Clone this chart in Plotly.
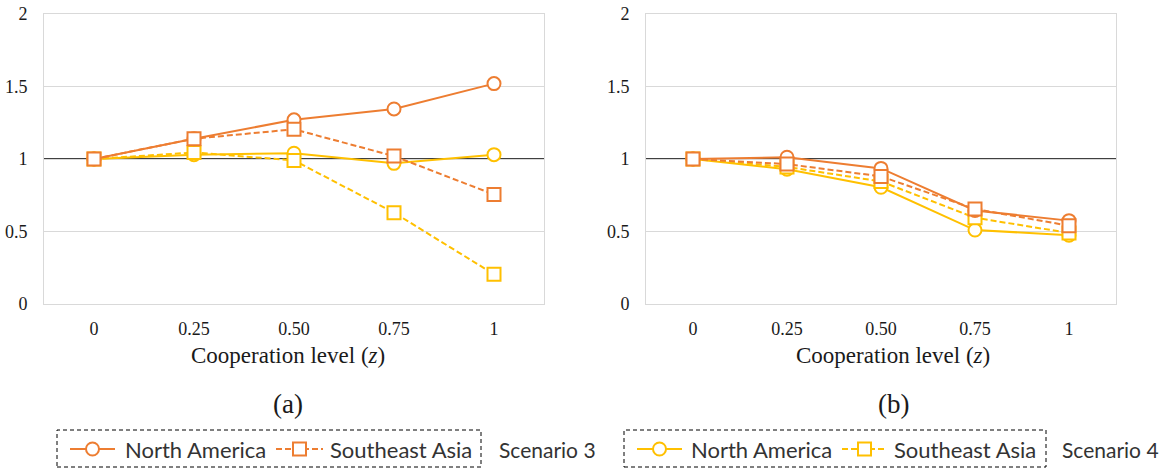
import plotly.graph_objects as go

W, H = 1173, 468

# Cooperation levels on the horizontal axis
levels = ["0", "0.25", "0.50", "0.75", "1"]
y_ticks = [0, 0.5, 1, 1.5, 2]
y_tick_text = ["0", "0.5", "1", "1.5", "2"]

# Panel (a)
a_s3_north_america = [1.00, 1.14, 1.27, 1.345, 1.52]
a_s3_southeast_asia = [1.00, 1.14, 1.205, 1.02, 0.755]
a_s4_north_america = [1.00, 1.03, 1.04, 0.97, 1.03]
a_s4_southeast_asia = [1.00, 1.045, 0.99, 0.63, 0.205]

# Panel (b)
b_s3_north_america = [1.00, 1.012, 0.935, 0.645, 0.575]
b_s3_southeast_asia = [1.00, 0.965, 0.88, 0.655, 0.54]
b_s4_north_america = [1.00, 0.93, 0.805, 0.51, 0.475]
b_s4_southeast_asia = [1.00, 0.945, 0.845, 0.595, 0.49]

ORANGE = "#ED7D31"
YELLOW = "#FFC000"
GRID = "#D9D9D9"
TEXT = "#1a1a1a"
SERIF = "Liberation Serif, Times New Roman, serif"
SANS = "Lato, Carlito, Calibri, sans-serif"
DASH = "6px,3px"
TICK_FONT = dict(family=SERIF, size=18, color=TEXT)
MARKER_SIZE = 13

styles = {
    ("s4", "na"): dict(color=YELLOW, dash="solid", symbol="circle"),
    ("s4", "sea"): dict(color=YELLOW, dash=DASH, symbol="square"),
    ("s3", "na"): dict(color=ORANGE, dash="solid", symbol="circle"),
    ("s3", "sea"): dict(color=ORANGE, dash=DASH, symbol="square"),
}

panels = [
    ("x", "y", {("s3", "na"): a_s3_north_america, ("s3", "sea"): a_s3_southeast_asia,
                ("s4", "na"): a_s4_north_america, ("s4", "sea"): a_s4_southeast_asia}),
    ("x2", "y2", {("s3", "na"): b_s3_north_america, ("s3", "sea"): b_s3_southeast_asia,
                  ("s4", "na"): b_s4_north_america, ("s4", "sea"): b_s4_southeast_asia}),
]

fig = go.Figure()

for xa, ya, series in panels:
    for key in [("s4", "na"), ("s4", "sea"), ("s3", "na"), ("s3", "sea")]:
        st = styles[key]
        fig.add_trace(go.Scatter(
            x=levels, y=series[key], xaxis=xa, yaxis=ya,
            mode="lines+markers", showlegend=False, hoverinfo="skip",
            line=dict(color=st["color"], width=2, dash=st["dash"]),
            marker=dict(symbol=st["symbol"], size=MARKER_SIZE,
                        color="white", line=dict(color=st["color"], width=2)),
        ))


# Pixel-space overlay (x3/y3) used for the legend samples and captions
def px_trace(xs, ys, **kw):
    fig.add_trace(go.Scatter(x=xs, y=ys, xaxis="x3", yaxis="y3",
                             showlegend=False, hoverinfo="skip", **kw))


legend_groups = [
    # scenario key, scenario label, box, entries (key, text, sample x0, x1, text x), label x
    ("s3", "Scenario 3", (57, 481), [("na", "North America", 70, 115, 123),
                                     ("sea", "Southeast Asia", 276, 323, 328)], 497),
    ("s4", "Scenario 4", (624, 1046), [("na", "North America", 637, 682, 689),
                                       ("sea", "Southeast Asia", 842, 887, 892)], 1060),
]
LEG_Y = 449
annotations = []
shapes = []
for sc, sc_label, (bx0, bx1), entries, sc_x in legend_groups:
    shapes.append(dict(type="rect", xref="paper", yref="paper",
                       x0=bx0 / W, x1=bx1 / W, y0=1 - 467 / H, y1=1 - 430 / H,
                       line=dict(color="black", width=1, dash="4px,3px")))
    for key, text, x0, x1, tx in entries:
        st = styles[(sc, key)]
        px_trace([x0, x1], [LEG_Y, LEG_Y], mode="lines",
                 line=dict(color=st["color"], width=2, dash=st["dash"]))
        px_trace([(x0 + x1) / 2], [LEG_Y], mode="markers",
                 marker=dict(symbol=st["symbol"], size=MARKER_SIZE, color="white",
                             line=dict(color=st["color"], width=2)))
        annotations.append(dict(xref="x3", yref="y3", x=tx, y=LEG_Y, text=text,
                                showarrow=False, xanchor="left", yanchor="middle",
                                font=dict(family=SANS, size=22, color="#333333")))
    annotations.append(dict(xref="x3", yref="y3", x=sc_x, y=LEG_Y, text=sc_label,
                            showarrow=False, xanchor="left", yanchor="middle",
                            font=dict(family=SANS, size=21, color="#333333")))

# Axis titles and panel captions
for cx, cap in [(288, "(a)"), (893, "(b)")]:
    annotations.append(dict(xref="x3", yref="y3", x=cx, y=355,
                            text="Cooperation level (<i>z</i>)", showarrow=False,
                            xanchor="center", yanchor="middle",
                            font=dict(family=SERIF, size=23, color=TEXT)))
    annotations.append(dict(xref="x3", yref="y3", x=cx, y=404, text=cap, showarrow=False,
                            xanchor="center", yanchor="middle",
                            font=dict(family=SERIF, size=27, color=TEXT)))

ydom = [1 - 304 / H, 1 - 14 / H]
xdoms = {"x": [44 / W, 544 / W], "x2": [646 / W, 1116 / W]}

# Black reference line at 1 in each panel
for xa, ya in [("x", "y"), ("x2", "y2")]:
    shapes.append(dict(type="line", xref="paper", yref=ya, x0=xdoms[xa][0], x1=xdoms[xa][1],
                       y0=1, y1=1, line=dict(color="black", width=1.6), layer="below"))

xcommon = dict(type="category", range=[-0.5, 4.5], showgrid=False, zeroline=False,
               showline=True, mirror=True, linecolor=GRID, linewidth=1,
               ticks="outside", ticklen=8, tickcolor="rgba(0,0,0,0)",
               tickfont=TICK_FONT, automargin=False, fixedrange=True)
ycommon = dict(range=[0, 2], tickvals=y_ticks, ticktext=y_tick_text, showgrid=True,
               gridcolor=GRID, gridwidth=1, zeroline=False, showline=True, mirror=True,
               linecolor=GRID, linewidth=1, ticks="outside", ticklen=12,
               tickcolor="rgba(0,0,0,0)", tickfont=TICK_FONT, domain=ydom,
               automargin=False, fixedrange=True)

fig.update_layout(
    width=W, height=H, margin=dict(l=0, r=0, t=0, b=0, autoexpand=False),
    font=TICK_FONT,
    paper_bgcolor="white", plot_bgcolor="rgba(0,0,0,0)",
    xaxis=dict(domain=xdoms["x"], anchor="y", **xcommon),
    yaxis=dict(anchor="x", **ycommon),
    xaxis2=dict(domain=xdoms["x2"], anchor="y2", **xcommon),
    yaxis2=dict(anchor="x2", **ycommon),
    xaxis3=dict(domain=[0, 1], range=[0, W], visible=False, anchor="y3",
                automargin=False, fixedrange=True),
    yaxis3=dict(domain=[0, 1], range=[H, 0], visible=False, anchor="x3",
                automargin=False, fixedrange=True),
    annotations=annotations, shapes=shapes, showlegend=False,
)

fig.write_html("out.html")
